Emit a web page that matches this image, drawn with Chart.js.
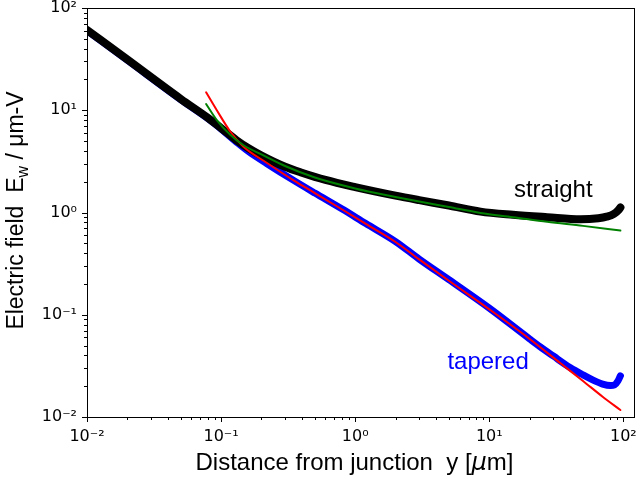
<!DOCTYPE html>
<html>
<head>
<meta charset="utf-8">
<script src="https://cdn.jsdelivr.net/npm/chart.js@4"></script>
<style>
  html, body { margin: 0; padding: 0; background: #fff; }
  canvas { display: block; }
</style>
</head>
<body>
<canvas id="field" width="637" height="481"></canvas>
<script>
// values (log-log)
const straightX = [0.01, 0.02, 0.05, 0.08, 0.1, 0.13, 0.16, 0.2, 0.3, 0.4, 0.6, 1, 2, 3, 5, 8.6, 15, 27, 48, 65, 75, 85, 92, 95];
const straightY = [61, 31.3, 12.9, 8.4, 6.7, 5.1, 4.25, 3.6, 2.8, 2.45, 2.08, 1.77, 1.46, 1.32, 1.17, 1.02, 0.95, 0.9, 0.86, 0.88, 0.91, 0.97, 1.06, 1.12];

const taperedX = [0.01, 0.02, 0.05, 0.08, 0.1, 0.13, 0.16, 0.22, 0.35, 0.5, 0.8, 1.2, 2, 3, 5, 10, 20, 24, 30, 40, 50, 60, 70, 80, 86, 91, 95];
const taperedY = [60, 30.8, 12.7, 8.25, 6.55, 4.9, 3.95, 3.0, 2.05, 1.55, 1.08, 0.78, 0.52, 0.35, 0.22, 0.116, 0.058, 0.0485, 0.0395, 0.0305, 0.0258, 0.0228, 0.021, 0.0203, 0.0206, 0.0225, 0.0253];

const fitTaperedX = [0.0773, 0.0929, 0.117, 0.147, 0.22, 0.35, 0.5, 0.8, 1.2, 2, 3, 5, 10, 20, 34, 50, 70, 95];
const fitTaperedY = [15.0, 10.0, 6.2, 4.4, 3.05, 2.05, 1.55, 1.07, 0.775, 0.515, 0.348, 0.215, 0.113, 0.058, 0.0335, 0.0225, 0.0158, 0.0117];

const fitStraightX = [0.0773, 0.0929, 0.117, 0.147, 0.2, 0.3, 0.5, 1, 2, 3, 5, 8.6, 15, 27, 50, 95];
const fitStraightY = [11.5, 8.0, 5.75, 4.55, 3.7, 2.85, 2.2, 1.72, 1.42, 1.28, 1.13, 0.99, 0.9, 0.81, 0.74, 0.665];

const xTickLabels = ['10\u207B\u00B2', '10\u207B\u00B9', '10\u2070', '10\u00B9', '10\u00B2'];
const yTickLabels = ['10\u207B\u00B2', '10\u207B\u00B9', '10\u2070', '10\u00B9', '10\u00B2'];

const textStraight = { x: 30, y: 1.66, text: 'straight', color: '#000000' };
const textTapered = { x: 9.8, y: 0.034, text: 'tapered', color: '#0000ff' };

const pts = (xs, ys) => xs.map((x, i) => ({ x: x, y: ys[i] }));

function logTicks(scale) {
    const ticks = [];
    const lo = Math.floor(Math.log10(scale.min));
    const hi = Math.ceil(Math.log10(scale.max));
    for (let e = lo; e <= hi; e++) {
        for (let m = 1; m <= 9; m++) {
            const v = m * Math.pow(10, e);
            if (v >= scale.min * 0.9999 && v <= scale.max * 1.0001) ticks.push({ value: v });
        }
    }
    scale.ticks = ticks;
}
function isMajor(v) {
    const l = Math.log10(v);
    return Math.abs(l - Math.round(l)) < 1e-6;
}
function labelFor(list) {
    return function (v) {
        if (!isMajor(v)) return '';
        return list[Math.round(Math.log10(v)) + 2];
    };
}
function noPad(s) {
    s.paddingTop = 0; s.paddingBottom = 0; s.paddingLeft = 0; s.paddingRight = 0;
}

const frame = {
    id: 'frame',
    afterDraw(chart) {
        const ctx = chart.ctx, a = chart.chartArea;
        const sx = chart.scales.x, sy = chart.scales.y;
        ctx.save();
        ctx.strokeStyle = '#000';
        ctx.lineWidth = 1;
        ctx.strokeRect(a.left + 0.5, a.top + 0.5, a.right - a.left, a.bottom - a.top);
        ctx.beginPath();
        sx.ticks.forEach(t => {
            const p = Math.round(sx.getPixelForValue(t.value)) + 0.5;
            const len = isMajor(t.value) ? 5 : 3;
            ctx.moveTo(p, a.bottom); ctx.lineTo(p, a.bottom + len);
        });
        sy.ticks.forEach(t => {
            const p = Math.round(sy.getPixelForValue(t.value)) + 0.5;
            const len = isMajor(t.value) ? 5 : 3;
            ctx.moveTo(a.left, p); ctx.lineTo(a.left - len, p);
        });
        ctx.stroke();

        // annotations
        ctx.font = '24px "Liberation Sans", Arial, sans-serif';
        ctx.textAlign = 'center';
        ctx.textBaseline = 'middle';
        [textStraight, textTapered].forEach(n => {
            ctx.fillStyle = n.color;
            ctx.fillText(n.text, sx.getPixelForValue(n.x), sy.getPixelForValue(n.y));
        });

        // x title
        ctx.fillStyle = '#000';
        ctx.textBaseline = 'alphabetic';
        ctx.textAlign = 'left';
        const f = '24px "Liberation Sans", Arial, sans-serif';
        const fi = 'italic 24px "DejaVu Sans", sans-serif';
        const parts = [['Distance from junction  y [', f], ['\u03BC', fi], ['m]', f]];
        let w = 0;
        parts.forEach(p => { ctx.font = p[1]; w += ctx.measureText(p[0]).width; });
        let x0 = (a.left + a.right) / 2 - 6 - w / 2;
        parts.forEach(p => { ctx.font = p[1]; ctx.fillText(p[0], x0, 470); x0 += ctx.measureText(p[0]).width; });

        // y title
        const ft = '23px "Liberation Sans", Arial, sans-serif';
        const fs = '16px "Liberation Sans", Arial, sans-serif';
        ctx.translate(23, (a.top + a.bottom) / 2 - 2);
        ctx.rotate(-Math.PI / 2);
        const yparts = [['Electric field  E', ft, 0], ['w', fs, 5], [' / \u03BCm-V', ft, 0]];
        w = 0;
        yparts.forEach(p => { ctx.font = p[1]; w += ctx.measureText(p[0]).width; });
        x0 = -w / 2;
        yparts.forEach(p => { ctx.font = p[1]; ctx.fillText(p[0], x0, p[2]); x0 += ctx.measureText(p[0]).width; });
        ctx.restore();
    }
};

const line = (data, color, width) => ({
    data: data,
    borderColor: color,
    backgroundColor: color,
    borderWidth: width,
    pointRadius: 0,
    fill: false,
    cubicInterpolationMode: 'monotone',
    borderCapStyle: 'round'
});

new Chart(document.getElementById('field'), {
    type: 'line',
    data: {
        datasets: [
            line(pts(fitStraightX, fitStraightY), '#008000', 2),
            line(pts(fitTaperedX, fitTaperedY), '#ff0000', 2),
            line(pts(straightX, straightY), '#000000', 8),
            line(pts(taperedX, taperedY), '#0000ff', 7)
        ]
    },
    options: {
        responsive: false,
        animation: false,
        layout: { padding: { top: 8, right: 3, left: 0, bottom: 0 } },
        plugins: {
            legend: { display: false },
            tooltip: { enabled: false }
        },
        scales: {
            x: {
                type: 'logarithmic',
                min: 0.01,
                max: 120,
                afterBuildTicks: logTicks,
                afterFit: s => { s.height = 64; noPad(s); },
                grid: { display: false, drawTicks: false },
                border: { display: false },
                ticks: {
                    autoSkip: false,
                    maxRotation: 0,
                    padding: 10,
                    color: '#000',
                    font: { family: 'DejaVu Sans', size: 16 },
                    callback: labelFor(xTickLabels)
                }
            },
            y: {
                type: 'logarithmic',
                min: 0.01,
                max: 100,
                afterBuildTicks: logTicks,
                afterFit: s => { s.width = 87; noPad(s); },
                grid: { display: false, drawTicks: false },
                border: { display: false },
                ticks: {
                    autoSkip: false,
                    padding: 10,
                    color: '#000',
                    font: { family: 'DejaVu Sans', size: 16, lineHeight: 1 },
                    callback: labelFor(yTickLabels)
                }
            }
        }
    },
    plugins: [frame]
});
</script>
</body>
</html>
